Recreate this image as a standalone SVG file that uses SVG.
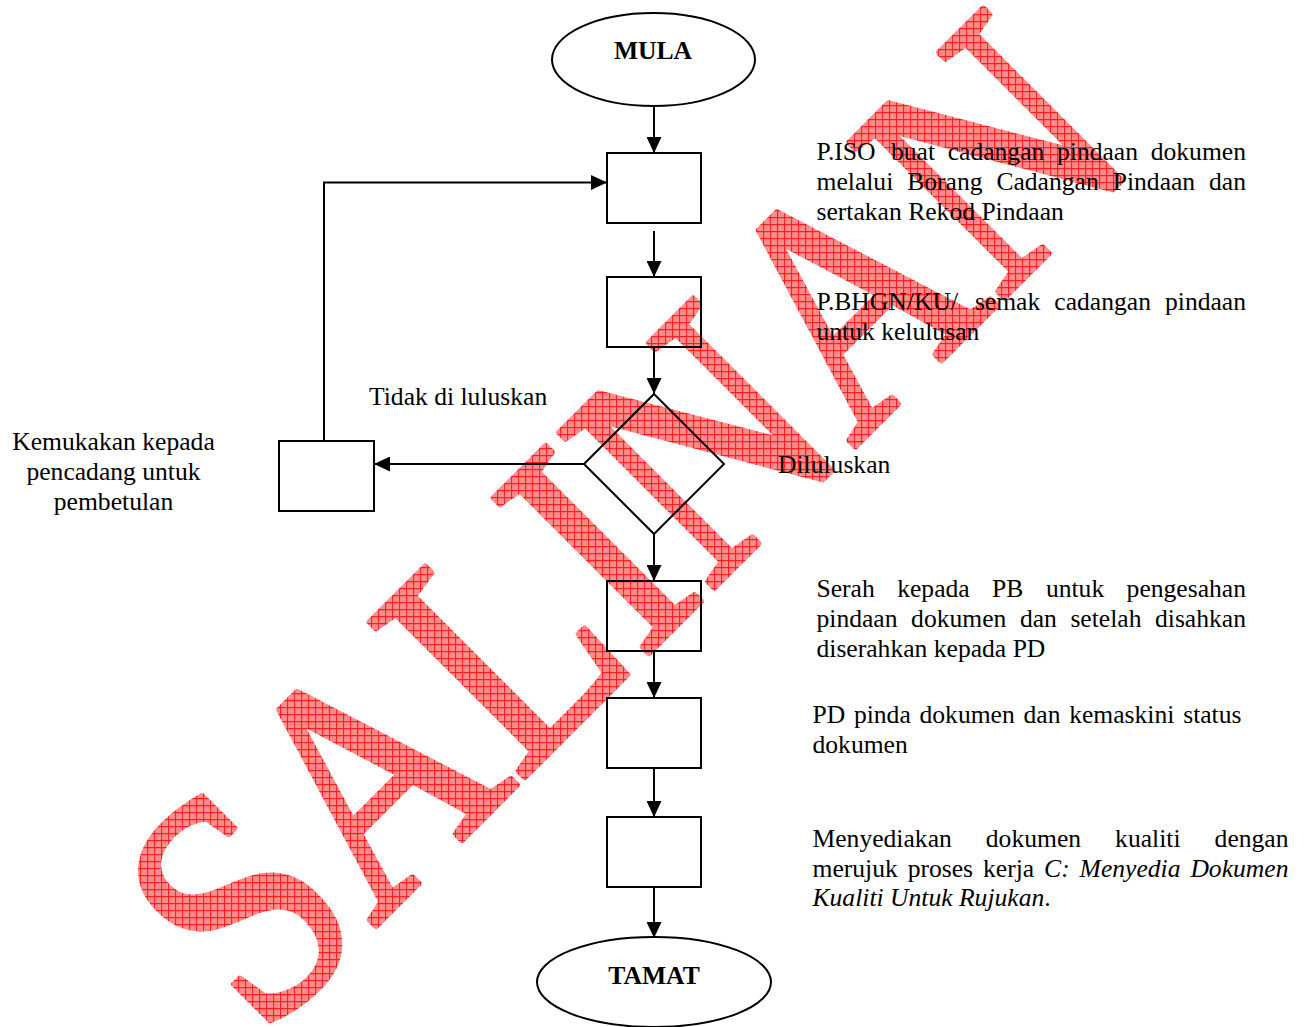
<svg xmlns="http://www.w3.org/2000/svg" width="1307" height="1027" viewBox="0 0 1307 1027">
<style>
.t{font-family:"Liberation Serif","Times New Roman",serif;font-size:25.6px;fill:#000}
.b{font-weight:bold}
.i{font-style:italic}
.n{fill:none;stroke:#000;stroke-width:2}
.c{fill:none;stroke:#000;stroke-width:2;marker-end:url(#arr)}
.wm{font-family:"Liberation Serif","Times New Roman",serif;font-size:284px;fill:url(#hatch);stroke:url(#hatch);stroke-width:5;stroke-linejoin:round}
</style>
<defs>
<marker id="arr" markerUnits="userSpaceOnUse" markerWidth="16" markerHeight="15" refX="16" refY="7.5" orient="auto">
<path d="M0,0 L16,7.5 L0,15 Z" fill="#000"/>
</marker>
<pattern id="hatch" width="7" height="7" patternUnits="userSpaceOnUse" patternTransform="scale(1,0.8475) rotate(45) translate(-262,-1040)">
<rect width="7" height="7" fill="#ff8c8c"/>
<path d="M0,0.5 H7 M0.5,0 V7" stroke="#ff1a1a" stroke-width="1"/>
</pattern>
</defs>
<rect width="1307" height="1027" fill="#fff"/>
<g id="watermark">
<text class="wm" transform="translate(262,1040) rotate(-45) scale(1,1.18)">SALINAN</text>
</g>
<g id="connectors">
<path class="c" d="M654,106 V153"/>
<path class="c" d="M654,231 V277"/>
<path class="c" d="M654,348 V394"/>
<path class="c" d="M584,464 H374"/>
<path class="c" d="M324,441 V182.5 H607"/>
<path class="c" d="M654,534 V581"/>
<path class="c" d="M654,651 V698"/>
<path class="c" d="M654,768 V817"/>
<path class="c" d="M654,887 V938"/>
<text class="t" x="369" y="405">Tidak di luluskan</text>
<text class="t" x="778" y="473">Diluluskan</text>
</g>
<g id="mula">
<ellipse class="n" cx="653.5" cy="59.5" rx="101.5" ry="46.5"/>
<text class="t b" x="653" y="58.5" text-anchor="middle">MULA</text>
</g>
<g id="step1">
<rect class="n" x="607" y="153" width="94" height="70"/>
<text class="t" y="160"><tspan x="816.5">P.ISO</tspan><tspan x="891">buat</tspan><tspan x="947.7">cadangan</tspan><tspan x="1057">pindaan</tspan><tspan x="1150.7">dokumen</tspan></text>
<text class="t" y="190"><tspan x="816.5">melalui</tspan><tspan x="907.2">Borang</tspan><tspan x="996.4">Cadangan</tspan><tspan x="1112.7">Pindaan</tspan><tspan x="1209">dan</tspan></text>
<text class="t" x="816.5" y="220">sertakan Rekod Pindaan</text>
</g>
<g id="step2">
<rect class="n" x="607" y="277" width="94" height="70"/>
<text class="t" y="310"><tspan x="816.5">P.BHGN/KU/</tspan><tspan x="974.9">semak</tspan><tspan x="1054.3">cadangan</tspan><tspan x="1165">pindaan</tspan></text>
<text class="t" x="816.5" y="340">untuk kelulusan</text>
</g>
<g id="decision">
<polygon class="n" points="654,394 724,464 654,534 584,464"/>
</g>
<g id="correction">
<rect class="n" x="279" y="441" width="95" height="70"/>
<text class="t" text-anchor="middle"><tspan x="113.5" y="449.5">Kemukakan kepada</tspan><tspan x="113.5" y="479.5">pencadang untuk</tspan><tspan x="113.5" y="509.5">pembetulan</tspan></text>
</g>
<g id="step3">
<rect class="n" x="607" y="581" width="94" height="70"/>
<text class="t" y="597"><tspan x="816.5">Serah</tspan><tspan x="897.2">kepada</tspan><tspan x="992.1">PB</tspan><tspan x="1045.9">untuk</tspan><tspan x="1126.6">pengesahan</tspan></text>
<text class="t" y="627"><tspan x="816.5">pindaan</tspan><tspan x="911.1">dokumen</tspan><tspan x="1019.9">dan</tspan><tspan x="1070.4">setelah</tspan><tspan x="1155">disahkan</tspan></text>
<text class="t" x="816.5" y="657">diserahkan kepada PD</text>
</g>
<g id="step4">
<rect class="n" x="607" y="698" width="94" height="70"/>
<text class="t" y="723"><tspan x="812.5">PD</tspan><tspan x="853.9">pinda</tspan><tspan x="919.5">dokumen</tspan><tspan x="1023.5">dan</tspan><tspan x="1069.2">kemaskini</tspan><tspan x="1183.2">status</tspan></text>
<text class="t" x="812.5" y="753">dokumen</text>
</g>
<g id="step5">
<rect class="n" x="607" y="817" width="94" height="70"/>
<text class="t" y="847"><tspan x="812.5">Menyediakan</tspan><tspan x="985.8">dokumen</tspan><tspan x="1115.1">kualiti</tspan><tspan x="1214.6">dengan</tspan></text>
<text class="t" y="876.5"><tspan x="812.5">merujuk</tspan><tspan x="907.7">proses</tspan><tspan x="983">kerja</tspan><tspan class="i" x="1044.1">C:</tspan><tspan class="i" x="1079.6">Menyedia</tspan><tspan class="i" x="1190.4">Dokumen</tspan></text>
<text class="t" x="812.5" y="906"><tspan class="i">Kualiti Untuk Rujukan</tspan>.</text>
</g>
<g id="tamat">
<ellipse class="n" cx="654" cy="982" rx="117" ry="45"/>
<text class="t b" x="654" y="984" text-anchor="middle">TAMAT</text>
</g>
</svg>
